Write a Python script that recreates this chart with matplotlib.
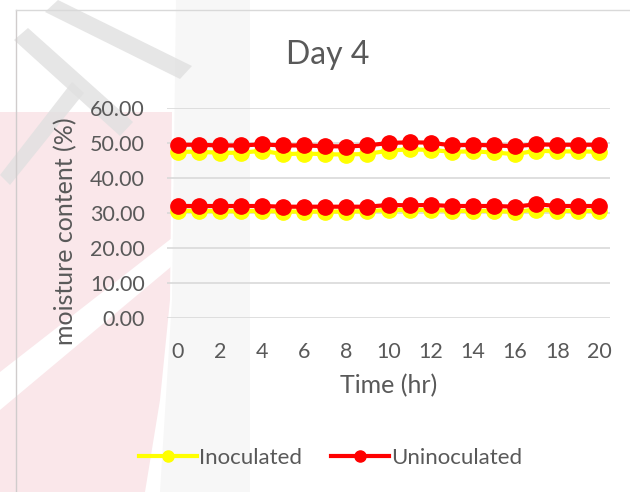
import matplotlib.pyplot as plt
from matplotlib.lines import Line2D
from matplotlib.patches import Polygon

hours = list(range(21))
tick_hours = list(range(0, 21, 2))

# two runs per treatment
inoc_high = [47.5, 47.5, 47.2, 47.2, 47.8, 46.8, 47.0, 46.8, 46.7, 46.9, 47.8,
             48.2, 48.0, 47.5, 47.6, 47.3, 46.8, 47.8, 47.6, 47.6, 47.5]
uninoc_high = [49.5, 49.5, 49.3, 49.3, 49.6, 49.3, 49.3, 49.1, 49.0, 49.3, 50.0,
               50.2, 50.1, 49.3, 49.5, 49.3, 49.1, 49.6, 49.5, 49.5, 49.5]
inoc_low = [30.6, 30.6, 30.5, 30.5, 30.6, 30.4, 30.4, 30.4, 30.4, 30.5, 30.9,
            30.8, 30.9, 30.6, 30.6, 30.6, 30.3, 31.0, 30.6, 30.6, 30.6]
uninoc_low = [32.0, 32.0, 32.0, 32.0, 32.0, 31.8, 31.8, 31.8, 31.8, 31.8, 32.3,
              32.2, 32.3, 32.0, 32.0, 32.0, 31.8, 32.5, 32.0, 32.0, 32.0]

txt = '#595959'
plt.rcParams['font.family'] = ['Lato', 'DejaVu Sans']

W, H = 630, 492
fig = plt.figure(figsize=(6.3, 4.92), dpi=100)

def px(pts):
    return [(x / W, 1 - y / H) for x, y in pts]

def blob(pts, color, alpha=1.0):
    fig.patches.append(Polygon(px(pts), closed=True, transform=fig.transFigure,
                               facecolor=color, edgecolor='none', alpha=alpha,
                               zorder=-2))

# faint watermark from the source document
blob([(176, 0), (250, 0), (250, 492), (160, 492), (172, 300)], '#f7f7f7')
blob([(0, 112), (172, 112), (170, 300), (160, 400), (145, 492), (0, 492)], '#fae7ea')
blob([(0, 372), (172, 238), (172, 266), (0, 410)], 'white')
for bar in [[(14, 40), (28, 28), (133, 122), (120, 136)],
            [(45, 12), (58, 0), (192, 66), (180, 79)],
            [(72, 82), (84, 93), (10, 185), (0, 175)]]:
    blob(bar, '#e0e0e0', 0.8)
fig.add_artist(Line2D([16 / W, 16 / W], [0, 1 - 10 / H], color='#d0cccc', lw=1, zorder=-1))
fig.add_artist(Line2D([16 / W, 1], [1 - 10 / H, 1 - 10 / H], color='#d9d9d9', lw=1, zorder=-1))

ax = fig.add_axes([167 / W, 1 - 318 / H, 443 / W, 210 / H])
ax.patch.set_alpha(0)

ax.plot(hours, inoc_high, color='#ffff00', lw=3, marker='o', ms=11)
ax.plot(hours, inoc_low, color='#ffff00', lw=3, marker='o', ms=11)
ax.plot(hours, uninoc_high, color='#ff0000', lw=3, marker='o', ms=11)
ax.plot(hours, uninoc_low, color='#ff0000', lw=3, marker='o', ms=11)

ax.set_xlim(-0.5, 20.5)
ax.set_ylim(0, 60)
ax.set_yticks(range(0, 61, 10))
ax.set_yticklabels(['%.2f' % v for v in range(0, 61, 10)])
ax.set_xticks(tick_hours)
ax.grid(axis='y', color='#d9d9d9', lw=1.2)
ax.set_axisbelow(True)
for s in ax.spines.values():
    s.set_visible(False)
ax.tick_params(length=0, labelsize=15.5, labelcolor=txt)
ax.tick_params(axis='y', pad=16)
ax.tick_params(axis='x', pad=17)

fig.text(328 / W, 1 - 55 / H, 'Day 4', fontsize=23, color=txt, ha='center', va='center')
fig.text(66 / W, 1 - 231 / H, 'moisture content (%)', fontsize=18, color=txt,
         rotation=90, ha='center', va='center')
fig.text(389 / W, 1 - 386 / H, 'Time (hr)', fontsize=18, color=txt, ha='center', va='center')

handles = [Line2D([], [], color='#ffff00', lw=3, marker='o', ms=8),
           Line2D([], [], color='#ff0000', lw=3, marker='o', ms=8)]
fig.legend(handles, ['Inoculated', 'Uninoculated'], loc='center',
           bbox_to_anchor=(331 / W, 1 - 458 / H), ncol=2, frameon=False,
           fontsize=16, labelcolor=txt, handlelength=2.6, handletextpad=0.1,
           columnspacing=1.3)

fig.savefig('out.png', dpi=100)
